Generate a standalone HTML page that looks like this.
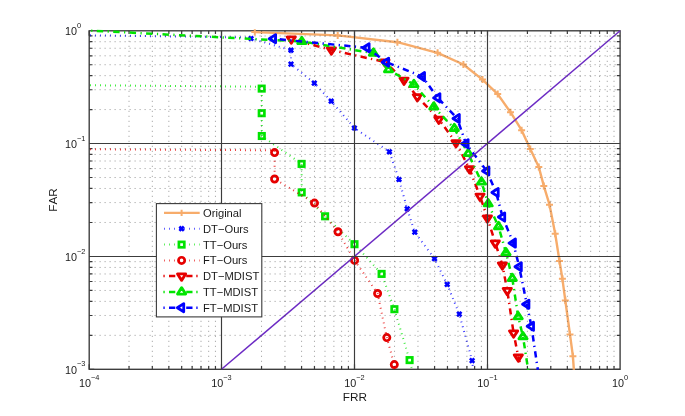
<!DOCTYPE html>
<html><head><meta charset="utf-8"><title>DET curves</title>
<style>html,body{margin:0;padding:0;background:#fff;}body{width:685px;height:416px;overflow:hidden;}svg{display:block;font-kerning:none;}</style>
</head><body>
<svg width="685" height="416" viewBox="0 0 685 416">
<rect x="0" y="0" width="685" height="416" fill="#ffffff"/>
<defs><clipPath id="ax"><rect x="88.20" y="29.30" width="532.90" height="340.50"/></clipPath></defs>
<rect x="89.20" y="30.80" width="530.90" height="338.50" stroke="#3a3a3a" stroke-width="1.35" fill="none"/>
<path d="M89.20 369.30v-5.00M89.20 30.80v5.00M129.03 369.30v-3.30M129.03 30.80v3.30M152.32 369.30v-3.30M152.32 30.80v3.30M168.85 369.30v-3.30M168.85 30.80v3.30M181.67 369.30v-3.30M181.67 30.80v3.30M192.15 369.30v-3.30M192.15 30.80v3.30M201.01 369.30v-3.30M201.01 30.80v3.30M208.68 369.30v-3.30M208.68 30.80v3.30M215.45 369.30v-3.30M215.45 30.80v3.30M221.50 369.30v-5.00M221.50 30.80v5.00M261.54 369.30v-3.30M261.54 30.80v3.30M284.96 369.30v-3.30M284.96 30.80v3.30M301.57 369.30v-3.30M301.57 30.80v3.30M314.46 369.30v-3.30M314.46 30.80v3.30M324.99 369.30v-3.30M324.99 30.80v3.30M333.90 369.30v-3.30M333.90 30.80v3.30M341.61 369.30v-3.30M341.61 30.80v3.30M348.41 369.30v-3.30M348.41 30.80v3.30M354.50 369.30v-5.00M354.50 30.80v5.00M394.54 369.30v-3.30M394.54 30.80v3.30M417.96 369.30v-3.30M417.96 30.80v3.30M434.57 369.30v-3.30M434.57 30.80v3.30M447.46 369.30v-3.30M447.46 30.80v3.30M457.99 369.30v-3.30M457.99 30.80v3.30M466.90 369.30v-3.30M466.90 30.80v3.30M474.61 369.30v-3.30M474.61 30.80v3.30M481.41 369.30v-3.30M481.41 30.80v3.30M487.50 369.30v-5.00M487.50 30.80v5.00M527.42 369.30v-3.30M527.42 30.80v3.30M550.77 369.30v-3.30M550.77 30.80v3.30M567.33 369.30v-3.30M567.33 30.80v3.30M580.18 369.30v-3.30M580.18 30.80v3.30M590.68 369.30v-3.30M590.68 30.80v3.30M599.56 369.30v-3.30M599.56 30.80v3.30M607.25 369.30v-3.30M607.25 30.80v3.30M614.03 369.30v-3.30M614.03 30.80v3.30M89.20 369.30h5.00M620.10 369.30h-5.00M89.20 335.34h3.30M620.10 335.34h-3.30M89.20 315.48h3.30M620.10 315.48h-3.30M89.20 301.39h3.30M620.10 301.39h-3.30M89.20 290.46h3.30M620.10 290.46h-3.30M89.20 281.52h3.30M620.10 281.52h-3.30M89.20 273.97h3.30M620.10 273.97h-3.30M89.20 267.43h3.30M620.10 267.43h-3.30M89.20 261.66h3.30M620.10 261.66h-3.30M89.20 256.50h5.00M620.10 256.50h-5.00M89.20 222.48h3.30M620.10 222.48h-3.30M89.20 202.59h3.30M620.10 202.59h-3.30M89.20 188.47h3.30M620.10 188.47h-3.30M89.20 177.52h3.30M620.10 177.52h-3.30M89.20 168.57h3.30M620.10 168.57h-3.30M89.20 161.00h3.30M620.10 161.00h-3.30M89.20 154.45h3.30M620.10 154.45h-3.30M89.20 148.67h3.30M620.10 148.67h-3.30M89.20 143.50h5.00M620.10 143.50h-5.00M89.20 109.57h3.30M620.10 109.57h-3.30M89.20 89.73h3.30M620.10 89.73h-3.30M89.20 75.65h3.30M620.10 75.65h-3.30M89.20 64.73h3.30M620.10 64.73h-3.30M89.20 55.80h3.30M620.10 55.80h-3.30M89.20 48.26h3.30M620.10 48.26h-3.30M89.20 41.72h3.30M620.10 41.72h-3.30M89.20 35.96h3.30M620.10 35.96h-3.30" stroke="#3a3a3a" stroke-width="1.2" fill="none"/>
<g clip-path="url(#ax)" fill="none">
<path d="M254.8 32.1L337.7 35.4L397.4 42.2L437.6 52.8L463.4 64.5L482.5 79.6L497.7 94.1L510.5 112.2L521.6 130.2L530.3 148.9L538.8 167.0L543.8 185.9L549.5 204.7L555.2 233.8L559.5 261.0L562.4 278.8L565.3 300.4L570.0 334.6L572.9 356.2L574.6 380.0" stroke="#f7ac6b" stroke-width="2.4" stroke-linejoin="round"/>
<path d="M251.30 32.10h7.00M254.80 28.60v7.00" stroke="#f7ac6b" stroke-width="2.0" fill="none"/>
<path d="M334.20 35.40h7.00M337.70 31.90v7.00" stroke="#f7ac6b" stroke-width="2.0" fill="none"/>
<path d="M393.90 42.20h7.00M397.40 38.70v7.00" stroke="#f7ac6b" stroke-width="2.0" fill="none"/>
<path d="M434.10 52.80h7.00M437.60 49.30v7.00" stroke="#f7ac6b" stroke-width="2.0" fill="none"/>
<path d="M459.90 64.50h7.00M463.40 61.00v7.00" stroke="#f7ac6b" stroke-width="2.0" fill="none"/>
<path d="M479.00 79.60h7.00M482.50 76.10v7.00" stroke="#f7ac6b" stroke-width="2.0" fill="none"/>
<path d="M494.20 94.10h7.00M497.70 90.60v7.00" stroke="#f7ac6b" stroke-width="2.0" fill="none"/>
<path d="M507.00 112.20h7.00M510.50 108.70v7.00" stroke="#f7ac6b" stroke-width="2.0" fill="none"/>
<path d="M518.10 130.20h7.00M521.60 126.70v7.00" stroke="#f7ac6b" stroke-width="2.0" fill="none"/>
<path d="M526.80 148.90h7.00M530.30 145.40v7.00" stroke="#f7ac6b" stroke-width="2.0" fill="none"/>
<path d="M535.30 167.00h7.00M538.80 163.50v7.00" stroke="#f7ac6b" stroke-width="2.0" fill="none"/>
<path d="M540.30 185.90h7.00M543.80 182.40v7.00" stroke="#f7ac6b" stroke-width="2.0" fill="none"/>
<path d="M546.00 204.70h7.00M549.50 201.20v7.00" stroke="#f7ac6b" stroke-width="2.0" fill="none"/>
<path d="M551.70 233.80h7.00M555.20 230.30v7.00" stroke="#f7ac6b" stroke-width="2.0" fill="none"/>
<path d="M556.00 261.00h7.00M559.50 257.50v7.00" stroke="#f7ac6b" stroke-width="2.0" fill="none"/>
<path d="M558.90 278.80h7.00M562.40 275.30v7.00" stroke="#f7ac6b" stroke-width="2.0" fill="none"/>
<path d="M561.80 300.40h7.00M565.30 296.90v7.00" stroke="#f7ac6b" stroke-width="2.0" fill="none"/>
<path d="M566.50 334.60h7.00M570.00 331.10v7.00" stroke="#f7ac6b" stroke-width="2.0" fill="none"/>
<path d="M569.40 356.20h7.00M572.90 352.70v7.00" stroke="#f7ac6b" stroke-width="2.0" fill="none"/>
<path d="M80.0 35.2L245.0 37.4L251.0 38.5L291.0 50.2L291.0 64.1L314.3 83.1L331.2 101.2L354.4 128.0L389.4 151.8L399.0 179.5L407.2 208.8L414.8 232.1L434.5 258.7L447.2 284.4L459.3 314.1L472.1 360.6L474.5 380.0" stroke="#0000ff" stroke-width="2" stroke-dasharray="0.95 4.05" stroke-opacity="0.78"/>
<path d="M248.80 36.30l4.40 4.40M248.80 40.70l4.40 -4.40" stroke="#0000ff" stroke-width="2.6" fill="none"/>
<path d="M288.80 48.00l4.40 4.40M288.80 52.40l4.40 -4.40" stroke="#0000ff" stroke-width="2.6" fill="none"/>
<path d="M288.80 61.90l4.40 4.40M288.80 66.30l4.40 -4.40" stroke="#0000ff" stroke-width="2.6" fill="none"/>
<path d="M312.10 80.90l4.40 4.40M312.10 85.30l4.40 -4.40" stroke="#0000ff" stroke-width="2.6" fill="none"/>
<path d="M329.00 99.00l4.40 4.40M329.00 103.40l4.40 -4.40" stroke="#0000ff" stroke-width="2.6" fill="none"/>
<path d="M352.20 125.80l4.40 4.40M352.20 130.20l4.40 -4.40" stroke="#0000ff" stroke-width="2.6" fill="none"/>
<path d="M387.20 149.60l4.40 4.40M387.20 154.00l4.40 -4.40" stroke="#0000ff" stroke-width="2.6" fill="none"/>
<path d="M396.80 177.30l4.40 4.40M396.80 181.70l4.40 -4.40" stroke="#0000ff" stroke-width="2.6" fill="none"/>
<path d="M405.00 206.60l4.40 4.40M405.00 211.00l4.40 -4.40" stroke="#0000ff" stroke-width="2.6" fill="none"/>
<path d="M412.60 229.90l4.40 4.40M412.60 234.30l4.40 -4.40" stroke="#0000ff" stroke-width="2.6" fill="none"/>
<path d="M432.30 256.50l4.40 4.40M432.30 260.90l4.40 -4.40" stroke="#0000ff" stroke-width="2.6" fill="none"/>
<path d="M445.00 282.20l4.40 4.40M445.00 286.60l4.40 -4.40" stroke="#0000ff" stroke-width="2.6" fill="none"/>
<path d="M457.10 311.90l4.40 4.40M457.10 316.30l4.40 -4.40" stroke="#0000ff" stroke-width="2.6" fill="none"/>
<path d="M469.90 358.40l4.40 4.40M469.90 362.80l4.40 -4.40" stroke="#0000ff" stroke-width="2.6" fill="none"/>
<path d="M80.0 85.2L261.7 86.7L261.7 88.6L261.7 113.2L261.8 136.0L301.6 163.9L301.7 192.4L325.1 216.3L354.5 244.2L381.6 273.9L394.4 309.2L409.6 360.1L413.5 375.0" stroke="#00e400" stroke-width="2" stroke-dasharray="0.95 4.05" stroke-opacity="0.78"/>
<rect x="259.00" y="85.90" width="5.40" height="5.40" stroke="#00e400" stroke-width="2.7" fill="none"/>
<rect x="259.00" y="110.50" width="5.40" height="5.40" stroke="#00e400" stroke-width="2.7" fill="none"/>
<rect x="259.10" y="133.30" width="5.40" height="5.40" stroke="#00e400" stroke-width="2.7" fill="none"/>
<rect x="298.90" y="161.20" width="5.40" height="5.40" stroke="#00e400" stroke-width="2.7" fill="none"/>
<rect x="299.00" y="189.70" width="5.40" height="5.40" stroke="#00e400" stroke-width="2.7" fill="none"/>
<rect x="322.40" y="213.60" width="5.40" height="5.40" stroke="#00e400" stroke-width="2.7" fill="none"/>
<rect x="351.80" y="241.50" width="5.40" height="5.40" stroke="#00e400" stroke-width="2.7" fill="none"/>
<rect x="378.90" y="271.20" width="5.40" height="5.40" stroke="#00e400" stroke-width="2.7" fill="none"/>
<rect x="391.70" y="306.50" width="5.40" height="5.40" stroke="#00e400" stroke-width="2.7" fill="none"/>
<rect x="406.90" y="357.40" width="5.40" height="5.40" stroke="#00e400" stroke-width="2.7" fill="none"/>
<path d="M80.0 149.2L274.6 150.3L274.6 152.6L274.6 179.0L314.5 203.1L338.0 231.8L354.6 260.4L377.6 293.5L386.8 337.6L394.3 364.6L395.5 378.0" stroke="#e60000" stroke-width="2" stroke-dasharray="0.95 4.05" stroke-opacity="0.78"/>
<circle cx="274.60" cy="152.60" r="3.15" stroke="#e60000" stroke-width="2.7" fill="none"/>
<circle cx="274.60" cy="179.00" r="3.15" stroke="#e60000" stroke-width="2.7" fill="none"/>
<circle cx="314.50" cy="203.10" r="3.15" stroke="#e60000" stroke-width="2.7" fill="none"/>
<circle cx="338.00" cy="231.80" r="3.15" stroke="#e60000" stroke-width="2.7" fill="none"/>
<circle cx="354.60" cy="260.40" r="3.15" stroke="#e60000" stroke-width="2.7" fill="none"/>
<circle cx="377.60" cy="293.50" r="3.15" stroke="#e60000" stroke-width="2.7" fill="none"/>
<circle cx="386.80" cy="337.60" r="3.15" stroke="#e60000" stroke-width="2.7" fill="none"/>
<circle cx="394.30" cy="364.60" r="3.15" stroke="#e60000" stroke-width="2.7" fill="none"/>
<path d="M291.3 39.0L331.4 50.0L385.0 62.0L404.0 80.2L417.3 96.7L438.8 119.3L456.0 142.7L469.5 168.8L480.0 196.2L487.4 218.0L495.3 243.1L502.4 265.0L507.3 290.6L513.6 333.0L518.3 357.0L520.8 366.5" stroke="#e60000" stroke-width="2.5" stroke-dasharray="6.3 4.3 1.3 4.3" stroke-dashoffset="9.5"/>
<polygon points="287.20,36.87 295.40,36.87 291.30,43.27" stroke="#e60000" stroke-width="2.8" fill="none" stroke-linejoin="round"/>
<polygon points="327.30,47.87 335.50,47.87 331.40,54.27" stroke="#e60000" stroke-width="2.8" fill="none" stroke-linejoin="round"/>
<polygon points="380.90,59.87 389.10,59.87 385.00,66.27" stroke="#e60000" stroke-width="2.8" fill="none" stroke-linejoin="round"/>
<polygon points="399.90,78.07 408.10,78.07 404.00,84.47" stroke="#e60000" stroke-width="2.8" fill="none" stroke-linejoin="round"/>
<polygon points="413.20,94.57 421.40,94.57 417.30,100.97" stroke="#e60000" stroke-width="2.8" fill="none" stroke-linejoin="round"/>
<polygon points="434.70,117.17 442.90,117.17 438.80,123.57" stroke="#e60000" stroke-width="2.8" fill="none" stroke-linejoin="round"/>
<polygon points="451.90,140.57 460.10,140.57 456.00,146.97" stroke="#e60000" stroke-width="2.8" fill="none" stroke-linejoin="round"/>
<polygon points="465.40,166.67 473.60,166.67 469.50,173.07" stroke="#e60000" stroke-width="2.8" fill="none" stroke-linejoin="round"/>
<polygon points="475.90,194.07 484.10,194.07 480.00,200.47" stroke="#e60000" stroke-width="2.8" fill="none" stroke-linejoin="round"/>
<polygon points="483.30,215.87 491.50,215.87 487.40,222.27" stroke="#e60000" stroke-width="2.8" fill="none" stroke-linejoin="round"/>
<polygon points="491.20,240.97 499.40,240.97 495.30,247.37" stroke="#e60000" stroke-width="2.8" fill="none" stroke-linejoin="round"/>
<polygon points="498.30,262.87 506.50,262.87 502.40,269.27" stroke="#e60000" stroke-width="2.8" fill="none" stroke-linejoin="round"/>
<polygon points="503.20,288.47 511.40,288.47 507.30,294.87" stroke="#e60000" stroke-width="2.8" fill="none" stroke-linejoin="round"/>
<polygon points="509.50,330.87 517.70,330.87 513.60,337.27" stroke="#e60000" stroke-width="2.8" fill="none" stroke-linejoin="round"/>
<polygon points="514.20,354.87 522.40,354.87 518.30,361.27" stroke="#e60000" stroke-width="2.8" fill="none" stroke-linejoin="round"/>
<path d="M60.0 29.0L301.8 41.5" stroke="#00e400" stroke-width="2.5" stroke-dasharray="6.4 4.45 1.2 4.4" stroke-dashoffset="12.5"/>
<path d="M301.8 41.5L373.4 53.1L388.5 69.7L413.9 84.5L433.8 106.9L454.3 128.5L468.2 153.5L481.5 182.0L488.2 203.8L498.5 226.6L506.0 252.7L512.3 278.4L518.2 316.7L523.0 336.7L529.0 375.0" stroke="#00e400" stroke-width="2.5" stroke-dasharray="6.3 4.3 1.3 4.3" stroke-dashoffset="10.7"/>
<polygon points="297.70,43.63 305.90,43.63 301.80,37.23" stroke="#00e400" stroke-width="2.8" fill="none" stroke-linejoin="round"/>
<polygon points="369.30,55.23 377.50,55.23 373.40,48.83" stroke="#00e400" stroke-width="2.8" fill="none" stroke-linejoin="round"/>
<polygon points="384.40,71.83 392.60,71.83 388.50,65.43" stroke="#00e400" stroke-width="2.8" fill="none" stroke-linejoin="round"/>
<polygon points="409.80,86.63 418.00,86.63 413.90,80.23" stroke="#00e400" stroke-width="2.8" fill="none" stroke-linejoin="round"/>
<polygon points="429.70,109.03 437.90,109.03 433.80,102.63" stroke="#00e400" stroke-width="2.8" fill="none" stroke-linejoin="round"/>
<polygon points="450.20,130.63 458.40,130.63 454.30,124.23" stroke="#00e400" stroke-width="2.8" fill="none" stroke-linejoin="round"/>
<polygon points="464.10,155.63 472.30,155.63 468.20,149.23" stroke="#00e400" stroke-width="2.8" fill="none" stroke-linejoin="round"/>
<polygon points="477.40,184.13 485.60,184.13 481.50,177.73" stroke="#00e400" stroke-width="2.8" fill="none" stroke-linejoin="round"/>
<polygon points="484.10,205.93 492.30,205.93 488.20,199.53" stroke="#00e400" stroke-width="2.8" fill="none" stroke-linejoin="round"/>
<polygon points="494.40,228.73 502.60,228.73 498.50,222.33" stroke="#00e400" stroke-width="2.8" fill="none" stroke-linejoin="round"/>
<polygon points="501.90,254.83 510.10,254.83 506.00,248.43" stroke="#00e400" stroke-width="2.8" fill="none" stroke-linejoin="round"/>
<polygon points="508.20,280.53 516.40,280.53 512.30,274.13" stroke="#00e400" stroke-width="2.8" fill="none" stroke-linejoin="round"/>
<polygon points="514.10,318.83 522.30,318.83 518.20,312.43" stroke="#00e400" stroke-width="2.8" fill="none" stroke-linejoin="round"/>
<polygon points="518.90,338.83 527.10,338.83 523.00,332.43" stroke="#00e400" stroke-width="2.8" fill="none" stroke-linejoin="round"/>
<path d="M273.5 38.7L367.0 47.8L386.5 62.2L422.4 76.6L437.8 97.9L457.2 118.5L466.0 143.7L486.8 171.0L496.1 192.5L502.6 217.0L513.3 243.1L519.2 266.8L526.8 304.2L531.4 326.3L538.6 375.0" stroke="#0000ff" stroke-width="2.5" stroke-dasharray="6.3 4.3 1.3 4.3" stroke-dashoffset="9.95"/>
<polygon points="275.63,34.60 275.63,42.80 269.23,38.70" stroke="#0000ff" stroke-width="2.8" fill="none" stroke-linejoin="round"/>
<polygon points="369.13,43.70 369.13,51.90 362.73,47.80" stroke="#0000ff" stroke-width="2.8" fill="none" stroke-linejoin="round"/>
<polygon points="388.63,58.10 388.63,66.30 382.23,62.20" stroke="#0000ff" stroke-width="2.8" fill="none" stroke-linejoin="round"/>
<polygon points="424.53,72.50 424.53,80.70 418.13,76.60" stroke="#0000ff" stroke-width="2.8" fill="none" stroke-linejoin="round"/>
<polygon points="439.93,93.80 439.93,102.00 433.53,97.90" stroke="#0000ff" stroke-width="2.8" fill="none" stroke-linejoin="round"/>
<polygon points="459.33,114.40 459.33,122.60 452.93,118.50" stroke="#0000ff" stroke-width="2.8" fill="none" stroke-linejoin="round"/>
<polygon points="468.13,139.60 468.13,147.80 461.73,143.70" stroke="#0000ff" stroke-width="2.8" fill="none" stroke-linejoin="round"/>
<polygon points="488.93,166.90 488.93,175.10 482.53,171.00" stroke="#0000ff" stroke-width="2.8" fill="none" stroke-linejoin="round"/>
<polygon points="498.23,188.40 498.23,196.60 491.83,192.50" stroke="#0000ff" stroke-width="2.8" fill="none" stroke-linejoin="round"/>
<polygon points="504.73,212.90 504.73,221.10 498.33,217.00" stroke="#0000ff" stroke-width="2.8" fill="none" stroke-linejoin="round"/>
<polygon points="515.43,239.00 515.43,247.20 509.03,243.10" stroke="#0000ff" stroke-width="2.8" fill="none" stroke-linejoin="round"/>
<polygon points="521.33,262.70 521.33,270.90 514.93,266.80" stroke="#0000ff" stroke-width="2.8" fill="none" stroke-linejoin="round"/>
<polygon points="528.93,300.10 528.93,308.30 522.53,304.20" stroke="#0000ff" stroke-width="2.8" fill="none" stroke-linejoin="round"/>
<polygon points="533.53,322.20 533.53,330.40 527.13,326.30" stroke="#0000ff" stroke-width="2.8" fill="none" stroke-linejoin="round"/>
<path d="M221.50 369.30L620.10 30.80" stroke="#6c2ac4" stroke-width="1.45"/>
</g>
<path d="M129.03 30.80V369.30M152.32 30.80V369.30M168.85 30.80V369.30M181.67 30.80V369.30M192.15 30.80V369.30M201.01 30.80V369.30M208.68 30.80V369.30M215.45 30.80V369.30M261.54 30.80V369.30M284.96 30.80V369.30M301.57 30.80V369.30M314.46 30.80V369.30M324.99 30.80V369.30M333.90 30.80V369.30M341.61 30.80V369.30M348.41 30.80V369.30M394.54 30.80V369.30M417.96 30.80V369.30M434.57 30.80V369.30M447.46 30.80V369.30M457.99 30.80V369.30M466.90 30.80V369.30M474.61 30.80V369.30M481.41 30.80V369.30M527.42 30.80V369.30M550.77 30.80V369.30M567.33 30.80V369.30M580.18 30.80V369.30M590.68 30.80V369.30M599.56 30.80V369.30M607.25 30.80V369.30M614.03 30.80V369.30M89.60 335.34H620.10M89.60 315.48H620.10M89.60 301.39H620.10M89.60 290.46H620.10M89.60 281.52H620.10M89.60 273.97H620.10M89.60 267.43H620.10M89.60 261.66H620.10M89.60 222.48H620.10M89.60 202.59H620.10M89.60 188.47H620.10M89.60 177.52H620.10M89.60 168.57H620.10M89.60 161.00H620.10M89.60 154.45H620.10M89.60 148.67H620.10M89.60 109.57H620.10M89.60 89.73H620.10M89.60 75.65H620.10M89.60 64.73H620.10M89.60 55.80H620.10M89.60 48.26H620.10M89.60 41.72H620.10M89.60 35.96H620.10" stroke="#444444" stroke-width="1" stroke-dasharray="1 4" fill="none" opacity="0.55"/>
<path d="M221.50 30.80V369.30M354.50 30.80V369.30M487.50 30.80V369.30M89.20 143.50H620.10M89.20 256.50H620.10" stroke="#3c3c3c" stroke-width="1.15" fill="none"/>
<g font-family="'Liberation Sans', Arial, Helvetica, sans-serif" fill="#1a1a1a">
<text x="89.20" y="387.0" text-anchor="middle" font-size="10.8">10<tspan font-size="7.4" dy="-7.2">−4</tspan></text>
<text x="221.50" y="387.0" text-anchor="middle" font-size="10.8">10<tspan font-size="7.4" dy="-7.2">−3</tspan></text>
<text x="354.50" y="387.0" text-anchor="middle" font-size="10.8">10<tspan font-size="7.4" dy="-7.2">−2</tspan></text>
<text x="487.50" y="387.0" text-anchor="middle" font-size="10.8">10<tspan font-size="7.4" dy="-7.2">−1</tspan></text>
<text x="620.10" y="387.0" text-anchor="middle" font-size="10.8">10<tspan font-size="7.4" dy="-7.2">0</tspan></text>
<text x="65.0" y="34.90" font-size="10.8">10<tspan font-size="7.4" dy="-7.4">0</tspan></text>
<text x="65.0" y="148.00" font-size="10.8">10<tspan font-size="7.4" dy="-7.4">−1</tspan></text>
<text x="65.0" y="261.00" font-size="10.8">10<tspan font-size="7.4" dy="-7.4">−2</tspan></text>
<text x="65.0" y="373.80" font-size="10.8">10<tspan font-size="7.4" dy="-7.4">−3</tspan></text>
<text x="354.8" y="400.7" text-anchor="middle" font-size="11.75">FRR</text>
<text transform="translate(56.7 199.9) rotate(-90)" text-anchor="middle" font-size="11.75">FAR</text>
</g>
<rect x="156.4" y="203.6" width="105.4" height="113.3" fill="#ffffff" stroke="#3a3a3a" stroke-width="1.1"/>
<path d="M164.0 212.9H199.7" stroke="#f7ac6b" stroke-width="2.2" fill="none"/>
<path d="M178.50 212.90h6.20M181.60 209.80v6.20" stroke="#f7ac6b" stroke-width="2.0" fill="none"/>
<text x="203.0" y="216.85" font-family="'Liberation Sans', Arial, Helvetica, sans-serif" font-size="11.2" fill="#1a1a1a">Original</text>
<path d="M164.0 228.7H199.7" stroke="#0000ff" stroke-width="2" fill="none" stroke-dasharray="0.95 4.05" stroke-opacity="0.65"/>
<path d="M179.40 226.50l4.40 4.40M179.40 230.90l4.40 -4.40" stroke="#0000ff" stroke-width="2.6" fill="none"/>
<text x="203.0" y="232.65" font-family="'Liberation Sans', Arial, Helvetica, sans-serif" font-size="11.2" fill="#1a1a1a">DT−Ours</text>
<path d="M164.0 244.6H199.7" stroke="#00e400" stroke-width="2" fill="none" stroke-dasharray="0.95 4.05" stroke-opacity="0.65"/>
<rect x="178.90" y="241.90" width="5.40" height="5.40" stroke="#00e400" stroke-width="2.7" fill="none"/>
<text x="203.0" y="248.55" font-family="'Liberation Sans', Arial, Helvetica, sans-serif" font-size="11.2" fill="#1a1a1a">TT−Ours</text>
<path d="M164.0 260.4H199.7" stroke="#e60000" stroke-width="2" fill="none" stroke-dasharray="0.95 4.05" stroke-opacity="0.65"/>
<circle cx="181.60" cy="260.40" r="3.15" stroke="#e60000" stroke-width="2.7" fill="none"/>
<text x="203.0" y="264.35" font-family="'Liberation Sans', Arial, Helvetica, sans-serif" font-size="11.2" fill="#1a1a1a">FT−Ours</text>
<path d="M163.4 276.1h1.3M169.0 276.1h6.3M186.2 276.1h6.3M196.29999999999998 276.1h1.3" stroke="#e60000" stroke-width="2.5" fill="none"/>
<polygon points="177.50,273.97 185.70,273.97 181.60,280.37" stroke="#e60000" stroke-width="2.8" fill="none" stroke-linejoin="round"/>
<text x="203.0" y="280.05" font-family="'Liberation Sans', Arial, Helvetica, sans-serif" font-size="11.2" fill="#1a1a1a">DT−MDIST</text>
<path d="M163.4 291.9h1.3M169.0 291.9h6.3M186.2 291.9h6.3M196.29999999999998 291.9h1.3" stroke="#00e400" stroke-width="2.5" fill="none"/>
<polygon points="177.50,294.03 185.70,294.03 181.60,287.63" stroke="#00e400" stroke-width="2.8" fill="none" stroke-linejoin="round"/>
<text x="203.0" y="295.85" font-family="'Liberation Sans', Arial, Helvetica, sans-serif" font-size="11.2" fill="#1a1a1a">TT−MDIST</text>
<path d="M163.4 307.7h1.3M169.0 307.7h6.3M186.2 307.7h6.3M196.29999999999998 307.7h1.3" stroke="#0000ff" stroke-width="2.5" fill="none"/>
<polygon points="183.73,303.60 183.73,311.80 177.33,307.70" stroke="#0000ff" stroke-width="2.8" fill="none" stroke-linejoin="round"/>
<text x="203.0" y="311.65" font-family="'Liberation Sans', Arial, Helvetica, sans-serif" font-size="11.2" fill="#1a1a1a">FT−MDIST</text>
</svg>
</body></html>
